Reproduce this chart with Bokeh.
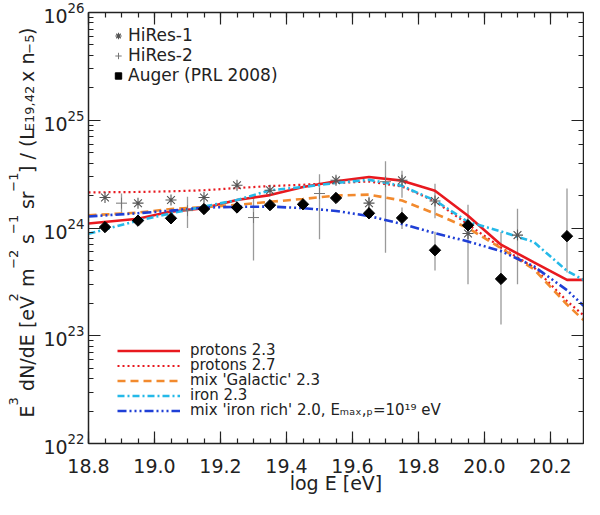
from bokeh.plotting import figure
from bokeh.layouts import row
from bokeh.models import (Range1d, LinearAxis, LogAxis, SingleIntervalTicker, LogTicker,
                          PrintfTickFormatter, CustomJSTickFormatter, Legend, LegendItem, Label)
from bokeh.embed import file_html
from bokeh.resources import INLINE

FONT = "DejaVu Sans"
UNIT = 1e24  # values below are E^3 dN/dE in units of 1e24

# model curves
model_logE = [18.8, 18.95, 19.05, 19.15, 19.25, 19.35, 19.45, 19.55, 19.65, 19.75,
              19.85, 19.95, 20.05, 20.15, 20.25, 20.3]
protons_23 = [1.10, 1.22, 1.42, 1.53, 1.82, 2.02, 2.40, 2.72, 2.97, 2.75,
              2.22, 1.30, 0.70, 0.48, 0.33, 0.33]
protons_27 = [2.14, 2.16, 2.19, 2.24, 2.35, 2.45, 2.52, 2.62, 2.70, 2.43,
              1.77, 1.08, 0.66, 0.43, 0.21, 0.155]
mix_galactic = [1.31, 1.39, 1.50, 1.56, 1.64, 1.75, 1.86, 2.00, 2.04, 1.80,
                1.36, 1.00, 0.65, 0.414, 0.195, 0.14]
iron_23 = [0.885, 1.17, 1.37, 1.58, 1.82, 2.24, 2.40, 2.62, 2.80, 2.46,
           1.80, 1.14, 0.93, 0.74, 0.40, 0.33]
mix_iron_rich = [1.28, 1.37, 1.45, 1.55, 1.57, 1.58, 1.53, 1.44, 1.29, 1.09,
                 0.895, 0.75, 0.61, 0.44, 0.265, 0.19]
model_labels = ["protons 2.3", "protons 2.7", "mix 'Galactic' 2.3", "iron 2.3",
                "mix 'iron rich' 2.0, Eₘₐₓ,ₚ=10¹⁹ eV"]

# data points
hires1_logE = [18.85, 18.95, 19.05, 19.15, 19.25, 19.35, 19.55, 19.65, 19.75, 19.85, 19.95, 20.1]
hires1_val = [1.92, 1.70, 1.82, 1.92, 2.49, 2.24, 2.77, 1.70, 2.77, 1.78, 0.889, 0.859]
hires1_lo = [1.85, 1.63, 1.75, 1.84, 2.38, 2.12, 2.55, 1.45, 1.91, 1.23, 0.30, 0.30]
hires1_hi = [1.99, 1.77, 1.89, 2.00, 2.60, 2.36, 3.00, 1.95, 3.39, 2.57, 1.64, 1.51]

hires2_logE = [18.9, 19.1, 19.3, 19.5, 19.7]
hires2_val = [1.70, 1.45, 1.25, 2.09, 2.69]
hires2_lo = [1.38, 1.00, 0.50, 0.787, 0.589]
hires2_hi = [2.09, 1.95, 1.95, 3.16, 4.17]

auger_logE = [18.85, 18.95, 19.05, 19.15, 19.25, 19.35, 19.45, 19.55, 19.65, 19.75,
              19.85, 19.95, 20.05, 20.25]
auger_val = [1.02, 1.17, 1.23, 1.50, 1.55, 1.63, 1.66, 1.90, 1.37, 1.24,
             0.622, 1.06, 0.337, 0.84]
auger_lo = [0.97, 1.12, 1.18, 1.45, 1.49, 1.56, 1.58, 1.80, 1.25, 0.98,
            0.404, 0.85, 0.127, 0.386]
auger_hi = [1.07, 1.22, 1.28, 1.56, 1.61, 1.70, 1.75, 2.00, 1.50, 1.55,
            0.923, 1.30, 0.92, 2.32]


def scaled(vals):
    return [v * UNIT for v in vals]


p = figure(width=544, height=499, x_range=Range1d(18.8, 20.3), y_range=Range1d(1e22, 1e26),
           y_axis_type="log", output_backend="svg", toolbar_location=None, title=None,
           min_border_left=44, min_border_right=1, min_border_top=12, min_border_bottom=56)
p.grid.visible = False
p.outline_line_color = None

x_ticker = SingleIntervalTicker(interval=0.2, num_minor_ticks=4)
blank = CustomJSTickFormatter(code="return ''")


def style_axis(ax, labels=True):
    ax.major_tick_in = 12
    ax.major_tick_out = 0
    ax.minor_tick_in = 5
    ax.minor_tick_out = 0
    ax.axis_line_width = 1.5
    ax.major_tick_line_width = 1.2
    ax.minor_tick_line_width = 1.2
    ax.axis_line_color = "#222222"
    ax.major_tick_line_color = "#222222"
    ax.minor_tick_line_color = "#222222"
    ax.major_label_text_font = FONT
    ax.major_label_text_color = "#222222"
    if not labels:
        ax.formatter = blank
        ax.major_label_standoff = 0


p.xaxis.ticker = x_ticker
p.xaxis.formatter = PrintfTickFormatter(format="%.1f")
style_axis(p.xaxis[0])
p.xaxis.major_label_text_font_size = "19px"
p.xaxis.major_label_standoff = 15
p.xaxis.axis_label = "log E [eV]"
p.xaxis.axis_label_text_font = FONT
p.xaxis.axis_label_text_font_style = "normal"
p.xaxis.axis_label_text_font_size = "19px"
p.xaxis.axis_label_text_color = "#222222"
p.xaxis.axis_label_standoff = -4

style_axis(p.yaxis[0])
p.yaxis.major_label_text_font_size = "19px"
p.yaxis.major_label_standoff = 4

top = LinearAxis(ticker=x_ticker)
style_axis(top, labels=False)
p.add_layout(top, "above")
right = LogAxis(ticker=LogTicker())
style_axis(right, labels=False)
p.add_layout(right, "right")

# error bars
for xs, lo, hi in [(hires2_logE, hires2_lo, hires2_hi), (hires1_logE, hires1_lo, hires1_hi),
                   (auger_logE, auger_lo, auger_hi)]:
    p.segment(x0=xs, y0=scaled(lo), x1=xs, y1=scaled(hi), line_color="#9a9a9a", line_width=1.3)

# model curves
r_p23 = p.line(model_logE, scaled(protons_23), line_color="#e8191f", line_width=2.6)
r_p27 = p.line(model_logE, scaled(protons_27), line_color="#e8191f", line_width=2.2, line_dash="2 3")
r_gal = p.line(model_logE, scaled(mix_galactic), line_color="#f28a2e", line_width=2.6, line_dash="8 5")
r_fe = p.line(model_logE, scaled(iron_23), line_color="#25b9e8", line_width=2.6, line_dash="7 3 2 3")
r_rich = p.line(model_logE, scaled(mix_iron_rich), line_color="#1f3fd6", line_width=2.6,
                line_dash="9 3 2 3 2 3 2 3")

# data markers
r_h2 = p.scatter(hires2_logE, scaled(hires2_val), marker="cross", size=11,
                 line_color="#777777", line_width=1)
r_h1 = p.scatter(hires1_logE, scaled(hires1_val), marker="asterisk", size=11,
                 line_color="#555555", line_width=1.1)
r_au = p.scatter(auger_logE, scaled(auger_val), marker="square", angle=0.785398, size=8,
                 fill_color="black", line_color="black")

data_legend = Legend(items=[LegendItem(label="HiRes-1", renderers=[r_h1]),
                            LegendItem(label="HiRes-2", renderers=[r_h2]),
                            LegendItem(label="Auger (PRL 2008)", renderers=[r_au])],
                     location=(22, 358), padding=0, margin=0, spacing=-3,
                     glyph_width=16, glyph_height=17, label_height=17, label_standoff=2,
                     label_text_font=FONT, label_text_font_size="17px",
                     label_text_color="#222222",
                     border_line_color=None, background_fill_alpha=0)
p.add_layout(data_legend)

# model legend: one single-row legend per curve, so that rows can sit closer than the text height
model_renderers = [r_p23, r_p27, r_gal, r_fe, r_rich]
for i, (lab, rend) in enumerate(zip(model_labels, model_renderers)):
    p.add_layout(Legend(items=[LegendItem(label=lab, renderers=[rend])],
                        location=(29, 24 + 15 * (len(model_labels) - 1 - i)),
                        padding=0, margin=0, glyph_width=63, glyph_height=13, label_height=13,
                        label_standoff=10, label_text_font=FONT, label_text_font_size="15px",
                        label_text_color="#222222",
                        border_line_color=None, background_fill_alpha=0))

# rotated y-axis title, built from pieces (super/subscripts), in a narrow strip on the left
ylab = figure(width=40, height=499, x_range=Range1d(0, 40), y_range=Range1d(0, 499),
              output_backend="svg", toolbar_location=None, title=None, min_border=0,
              x_axis_location=None, y_axis_location=None)
ylab.grid.visible = False
ylab.outline_line_color = None

WIDTH_EM = {" ": .318, "E": .632, "3": .636, "d": .635, "N": .748, "/": .337, "[": .390,
            "e": .615, "V": .684, "2": .636, "m": .974, "−": .838, "s": .521, "1": .636,
            "r": .411, "]": .390, "(": .390, "L": .557, "x": .592, "n": .634, "9": .636,
            ",": .318, "4": .636, "5": .636, ")": .390}
title_pieces = [("E", "main", 0), ("3", "sup", 1), ("dN/dE [eV", "main", 8), ("2", "sup", 1),
                ("m", "main", 8), ("−2", "sup", 1), ("s", "main", 8), ("−1", "sup", 1),
                ("sr", "main", 8), ("−1", "sup", 1), ("] / (L", "main", 1),
                ("E19,42", "sub", 1), ("x n", "main", 8), ("−5", "sub", 1), (")", "main", 1)]
sizes = {"main": 19, "sup": 13, "sub": 13}
shift = {"main": 0, "sup": -13, "sub": 3}
base_x = 26
pos = 30
for txt, kind, gap in title_pieces:
    pos += gap
    ylab.add_layout(Label(x=base_x + shift[kind], y=pos, x_units="data", y_units="data",
                          text=txt, angle=90, angle_units="deg", text_align="left",
                          text_baseline="alphabetic", text_font=FONT,
                          text_font_size=f"{sizes[kind]}px", text_color="#222222"))
    pos += sum(WIDTH_EM.get(c, .6) for c in txt) * sizes[kind] * 1.08

layout = row(ylab, p)
open("out.html", "w").write(file_html(layout, INLINE))
